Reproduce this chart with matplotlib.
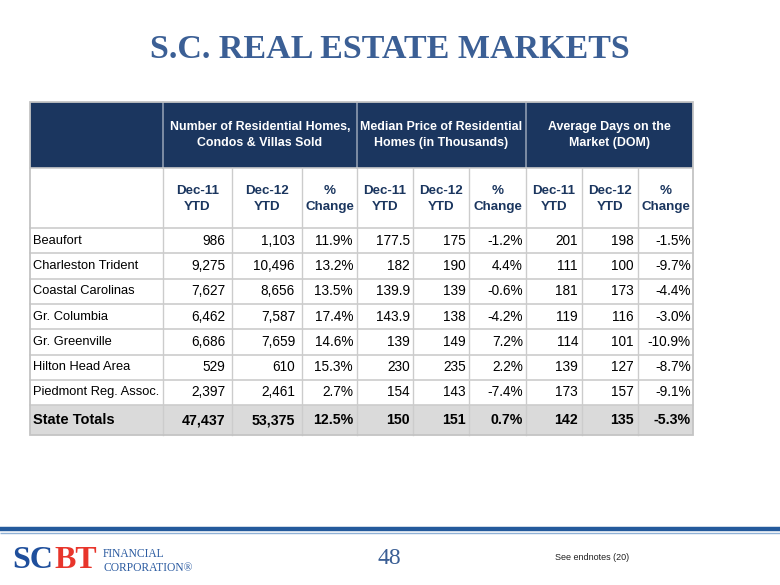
import matplotlib
matplotlib.use("Agg")
import matplotlib.pyplot as plt
from matplotlib.patches import Rectangle

# ---------------- data ----------------
regions = ["Beaufort", "Charleston Trident", "Coastal Carolinas", "Gr. Columbia",
           "Gr. Greenville", "Hilton Head Area", "Piedmont Reg. Assoc."]
homes_dec11 = [986, 9275, 7627, 6462, 6686, 529, 2397]
homes_dec12 = [1103, 10496, 8656, 7587, 7659, 610, 2461]
homes_pct = [11.9, 13.2, 13.5, 17.4, 14.6, 15.3, 2.7]
price_dec11 = [177.5, 182, 139.9, 143.9, 139, 230, 154]
price_dec12 = [175, 190, 139, 138, 149, 235, 143]
price_pct = [-1.2, 4.4, -0.6, -4.2, 7.2, 2.2, -7.4]
dom_dec11 = [201, 111, 181, 119, 114, 139, 173]
dom_dec12 = [198, 100, 173, 116, 101, 127, 157]
dom_pct = [-1.5, -9.7, -4.4, -3.0, -10.9, -8.7, -9.1]
totals_label = "State Totals"
totals = [47437, 53375, 12.5, 150, 151, 0.7, 142, 135, -5.3]
group_headers = ["Number of Residential Homes,\nCondos & Villas Sold",
                 "Median Price of Residential\nHomes (in Thousands)",
                 "Average Days on the\nMarket (DOM)"]
sub_headers = ["Dec-11\nYTD", "Dec-12\nYTD", "%\nChange"] * 3
title = "S.C. REAL ESTATE MARKETS"
page_number = "48"
footnote = "See endnotes (20)"

# ---------------- layout ----------------
NAVY = "#1b365f"
TITLE_BLUE = "#3b5f95"
GRID = "#cccccc"
SANS = "Liberation Sans"
SERIF = "Liberation Serif"

col_edges = [30, 163, 232, 302, 357, 413, 469, 526, 582, 638, 693]
y_h1_top, y_h1_bot, y_h2_bot = 102, 168, 228
row_h = 25.3
y_tot_top = y_h2_bot + row_h * len(regions)
y_tot_bot = 435

fig = plt.figure(figsize=(7.8, 5.85), dpi=100)
ax = fig.add_axes([0, 0, 1, 1])
ax.set_xlim(0, 780)
ax.set_ylim(585, 0)
ax.axis("off")

# title
ax.text(390, 50, title, ha="center", va="center", fontsize=24.5,
        family=SERIF, fontweight="bold", color=TITLE_BLUE)

# header row 1 background
ax.add_patch(Rectangle((col_edges[0], y_h1_top), col_edges[-1] - col_edges[0],
                       y_h1_bot - y_h1_top, facecolor=NAVY, edgecolor="none"))
group_spans = [(1, 4), (4, 7), (7, 10)]
for (a, b), label in zip(group_spans, group_headers):
    xc = (col_edges[a] + col_edges[b]) / 2
    ax.text(xc, (y_h1_top + y_h1_bot) / 2, label, ha="center", va="center",
            fontsize=8.9, family=SANS, fontweight="bold", color="white",
            linespacing=1.5)
for x in [col_edges[1], col_edges[4], col_edges[7]]:
    ax.plot([x, x], [y_h1_top, y_h1_bot], color="#8e9bb0", lw=1.2)

# header row 2
for i, label in enumerate(sub_headers):
    xc = (col_edges[i + 1] + col_edges[i + 2]) / 2
    ax.text(xc, (y_h1_bot + y_h2_bot) / 2 + 1, label, ha="center", va="center",
            fontsize=9.6, family=SANS, fontweight="bold", color=NAVY,
            linespacing=1.35)

# totals background
ax.add_patch(Rectangle((col_edges[0], y_tot_top), col_edges[-1] - col_edges[0],
                       y_tot_bot - y_tot_top, facecolor="#dadada", edgecolor="none"))


def fmt_int(v):
    return f"{v:,}"


def fmt_num(v):
    return f"{v:g}"


def fmt_pct(v):
    return f"{v:.1f}%"


columns = [(homes_dec11, fmt_int), (homes_dec12, fmt_int), (homes_pct, fmt_pct),
           (price_dec11, fmt_num), (price_dec12, fmt_num), (price_pct, fmt_pct),
           (dom_dec11, fmt_num), (dom_dec12, fmt_num), (dom_pct, fmt_pct)]
pads = [7, 7, 4, 3, 3, 3, 4, 4, 2]

for r, name in enumerate(regions):
    yc = y_h2_bot + row_h * (r + 0.5)
    ax.text(col_edges[0] + 3, yc, name, ha="left", va="center", fontsize=9.3,
            family=SANS, color="black")
    for c, (vals, f) in enumerate(columns):
        ax.text(col_edges[c + 2] - pads[c], yc, f(vals[r]), ha="right",
                va="center", fontsize=9.8, family=SANS, color="black")

yc = (y_tot_top + y_tot_bot) / 2
ax.text(col_edges[0] + 3, yc, totals_label, ha="left", va="center",
        fontsize=10.5, family=SANS, fontweight="bold", color="black")
for c, (v, (_, f)) in enumerate(zip(totals, columns)):
    ax.text(col_edges[c + 2] - pads[c], yc, f(v), ha="right", va="center",
            fontsize=10.2, family=SANS, fontweight="bold", color="black")

# grid lines
for x in col_edges[1:-1]:
    ax.plot([x, x], [y_h1_bot, y_tot_bot], color=GRID, lw=1.0, zorder=1)
for r in range(len(regions) + 1):
    y = y_h2_bot + row_h * r
    ax.plot([col_edges[0], col_edges[-1]], [y, y], color=GRID, lw=1.2, zorder=1)
ax.plot([col_edges[0], col_edges[-1]], [y_h1_bot, y_h1_bot], color=GRID, lw=1.2)
# outer border
ax.add_patch(Rectangle((col_edges[0], y_h1_top), col_edges[-1] - col_edges[0],
                       y_tot_bot - y_h1_top, facecolor="none", edgecolor="#c4c4c4",
                       lw=1.3, zorder=3))

# footer rule
ax.plot([0, 780], [529, 529], color="#245a9c", lw=3.2, solid_capstyle="butt")
ax.plot([0, 780], [532.5, 532.5], color="#8fb1d6", lw=1.0, solid_capstyle="butt")

# logo
ax.text(12, 561, "SC", ha="left", va="center", fontsize=23, family=SERIF,
        fontweight="bold", color="#1f4f9c")
ax.text(54, 561, "BT", ha="left", va="center", fontsize=23, family=SERIF,
        fontweight="bold", color="#e8352b")
ax.text(103, 554, "FINANCIAL", ha="left", va="center", fontsize=8.3, family=SERIF,
        color="#2a5aa0")
ax.text(103, 568, "CORPORATION®", ha="left", va="center", fontsize=8.3,
        family=SERIF, color="#2a5aa0")

# page number and footnote
ax.text(389, 558, page_number, ha="center", va="center", fontsize=17,
        family=SERIF, color=TITLE_BLUE)
ax.text(555, 558, footnote, ha="left", va="center", fontsize=6.5, family=SANS,
        color="#222222")

fig.savefig("out.png", dpi=100)
